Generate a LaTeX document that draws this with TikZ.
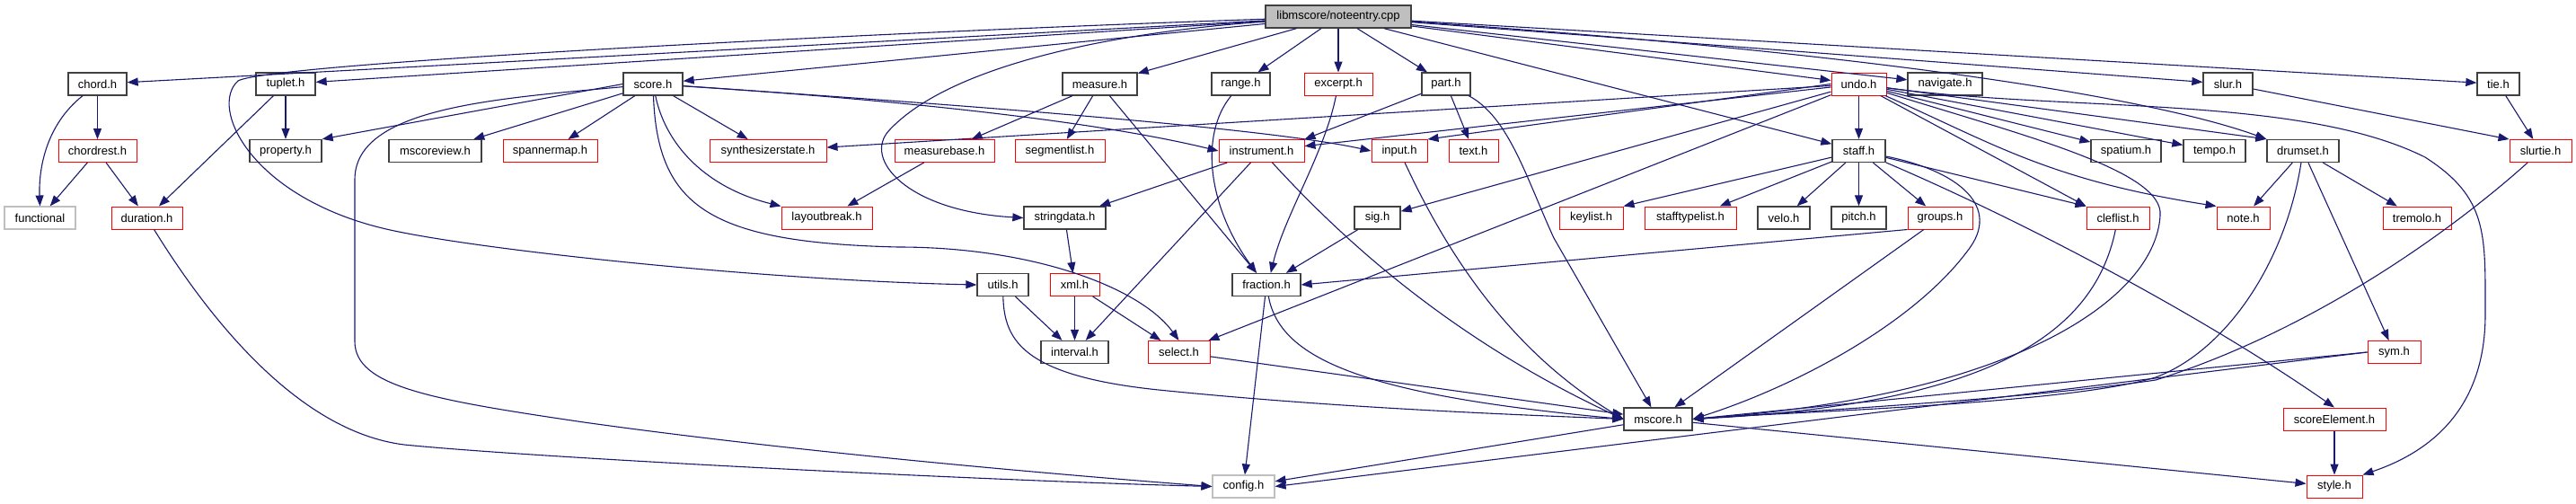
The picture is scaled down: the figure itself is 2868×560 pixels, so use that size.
\documentclass[tikz,border=0pt]{standalone}
\usepackage{fontspec}
\setmainfont{Liberation Sans}
\usetikzlibrary{arrows.meta}
\definecolor{edgeblue}{HTML}{191970}
\definecolor{docgray}{HTML}{404040}
\definecolor{extgray}{HTML}{BFBFBF}
\definecolor{undocred}{HTML}{FF0000}
\tikzset{
  box/.style={rectangle, minimum height=25pt, inner sep=0pt, font=\fontsize{13}{15}\selectfont, line width=1.3pt},
  docnode/.style={box, draw=docgray},
  rednode/.style={box, draw=undocred, line width=1pt},
  extnode/.style={box, draw=extgray, line width=1.1pt},
  rootnode/.style={box, draw=docgray, fill=extgray},
  edge/.style={draw=edgeblue, line width=1.1pt, -{Triangle[length=12pt,width=9pt]}}
}
\begin{document}
\begin{tikzpicture}[x=1pt,y=-1pt]
\useasboundingbox (0,0) rectangle (2868,560);
% row 0
\node[rootnode, minimum width=162pt] (root) at (1490,18.5) {libmscore/noteentry.cpp};
% row 1
\node[docnode, minimum width=65pt] (chord) at (108.5,93.5) {chord.h};
\node[docnode, minimum width=66pt] (tuplet) at (318,93.5) {tuplet.h};
\node[docnode, minimum width=66pt] (score) at (727,93.5) {score.h};
\node[docnode, minimum width=83pt] (measure) at (1224.5,93.5) {measure.h};
\node[docnode, minimum width=65pt] (range) at (1381.5,93.5) {range.h};
\node[rednode, minimum width=76pt] (excerpt) at (1490,93.5) {excerpt.h};
\node[docnode, minimum width=54pt] (part) at (1610,93.5) {part.h};
\node[rednode, minimum width=61pt] (undo) at (2069.5,93.5) {undo.h};
\node[docnode, minimum width=83pt] (navigate) at (2165.5,93.5) {navigate.h};
\node[docnode, minimum width=55pt] (slur) at (2480.5,93.5) {slur.h};
\node[docnode, minimum width=47pt] (tie) at (2781.5,93.5) {tie.h};
% row 2
\node[rednode, minimum width=87pt] (chordrest) at (108.5,168) {chordrest.h};
\node[docnode, minimum width=80pt] (property) at (318,168) {property.h};
\node[docnode, minimum width=103pt] (mscoreview) at (484.5,168) {mscoreview.h};
\node[rednode, minimum width=105pt] (spannermap) at (612.5,168) {spannermap.h};
\node[rednode, minimum width=130pt] (synth) at (855,168) {synthesizerstate.h};
\node[rednode, minimum width=111pt] (measurebase) at (1051.5,168) {measurebase.h};
\node[rednode, minimum width=100pt] (segmentlist) at (1180,168) {segmentlist.h};
\node[rednode, minimum width=95pt] (instrument) at (1404.5,168) {instrument.h};
\node[rednode, minimum width=62pt] (input) at (1558,168) {input.h};
\node[rednode, minimum width=55pt] (text) at (1640.5,168) {text.h};
\node[docnode, minimum width=59pt] (staff) at (2069.5,168) {staff.h};
\node[docnode, minimum width=78pt] (spatium) at (2367,168) {spatium.h};
\node[docnode, minimum width=69pt] (tempo) at (2465.5,168) {tempo.h};
\node[docnode, minimum width=80pt] (drumset) at (2564,168) {drumset.h};
\node[rednode, minimum width=69pt] (slurtie) at (2828.5,168) {slurtie.h};
% row 3
\node[extnode, minimum width=79pt] (functional) at (44.5,242.5) {functional};
\node[rednode, minimum width=79pt] (duration) at (163.5,242.5) {duration.h};
\node[rednode, minimum width=101pt] (layoutbreak) at (920.5,242.5) {layoutbreak.h};
\node[docnode, minimum width=91pt] (stringdata) at (1185.5,242.5) {stringdata.h};
\node[docnode, minimum width=51pt] (sig) at (1533.5,242.5) {sig.h};
\node[rednode, minimum width=71pt] (keylist) at (1771.5,242.5) {keylist.h};
\node[rednode, minimum width=102pt] (stafftypelist) at (1882,242.5) {stafftypelist.h};
\node[docnode, minimum width=58pt] (velo) at (1986,242.5) {velo.h};
\node[docnode, minimum width=61pt] (pitch) at (2069.5,242.5) {pitch.h};
\node[rednode, minimum width=72pt] (groups) at (2160,242.5) {groups.h};
\node[rednode, minimum width=70pt] (cleflist) at (2358,242.5) {cleflist.h};
\node[rednode, minimum width=59pt] (note) at (2497.5,242.5) {note.h};
\node[rednode, minimum width=76pt] (tremolo) at (2691,242.5) {tremolo.h};
% row 4
\node[docnode, minimum width=57pt] (utils) at (1116.5,317) {utils.h};
\node[rednode, minimum width=55pt] (xml) at (1196.5,317) {xml.h};
\node[docnode, minimum width=76pt] (fraction) at (1410,317) {fraction.h};
% row 5
\node[docnode, minimum width=75pt] (interval) at (1196.5,392) {interval.h};
\node[rednode, minimum width=69pt] (select) at (1312.5,392) {select.h};
\node[rednode, minimum width=59pt] (sym) at (2665.5,392) {sym.h};
% row 6
\node[docnode, minimum width=76pt] (mscore) at (1846,466.5) {mscore.h};
\node[rednode, minimum width=114pt] (scoreelement) at (2599,466.5) {scoreElement.h};
% row 7
\node[extnode, minimum width=69pt] (config) at (1384.5,541.5) {config.h};
\node[rednode, minimum width=62pt] (style) at (2599,541.5) {style.h};

% ---- edges from root
\draw[edge] (root) -- (chord);
\draw[edge] (root) -- (tuplet);
\draw[edge] (root) -- (score);
\draw[edge] (root) .. controls (1000,35) and (300,70) .. (265,90)
  .. controls (232,120) and (280,220) .. (430,255)
  .. controls (530,278) and (850,312) .. (utils.west);
\draw[edge] (root) .. controls (1250,35) and (1060,70) .. (990,145)
  .. controls (960,177) and (1010,235) .. (stringdata.west);
\draw[edge] (root) -- (measure);
\draw[edge] (root) -- (range);
\draw[edge] (root) -- (excerpt);
\draw[edge] (root) -- (part);
\draw[edge] (root) -- (undo);
\draw[edge] (root) -- (navigate);
\draw[edge] (root) -- (slur);
\draw[edge] (root) -- (tie);
\draw[edge] (root) -- (staff);
\draw[edge] (root) .. controls (2100,60) and (2400,110) .. (drumset.north west);

% ---- chord / tuplet
\draw[edge] (chord) -- (chordrest);
\draw[edge] (chord) .. controls (50,140) and (43,190) .. (functional.north);
\draw[edge] (chordrest) -- (functional);
\draw[edge] (chordrest) -- (duration);
\draw[edge] (tuplet) -- (property);
\draw[edge] (tuplet) -- (duration);
\draw[edge] (duration) .. controls (230,350) and (330,480) .. (450,495)
  .. controls (600,510) and (1100,535) .. (config.west);

% ---- score
\draw[edge] (score.west) -- (property.north east);
\draw[edge] (score) -- (mscoreview);
\draw[edge] (score) -- (spannermap);
\draw[edge] (score) -- (synth);
\draw[edge] (score) .. controls (742,165) and (790,210) .. (layoutbreak.north west);
\draw[edge] (score) .. controls (732,230) and (790,270) .. (1000,275)
  .. controls (1150,275) and (1270,320) .. (select.north);
\draw[edge] (score) .. controls (550,110) and (395,120) .. (395,200) -- (395,380)
  .. controls (395,430) and (480,445) .. (650,470)
  .. controls (900,505) and (1200,530) .. (config.west);
\draw[edge] (score) .. controls (950,108) and (1200,130) .. (instrument.west);
\draw[edge] (score) .. controls (1000,112) and (1400,140) .. (input.west);

% ---- measure / range / excerpt / part
\draw[edge] (measure) -- (measurebase);
\draw[edge] (measure) -- (segmentlist);
\draw[edge] (measure) -- (fraction.130);
\draw[edge] (measurebase) -- (layoutbreak);
\draw[edge] (range) .. controls (1335,150) and (1345,230) .. (fraction.130);
\draw[edge] (excerpt) .. controls (1475,170) and (1430,240) .. (fraction.70);
\draw[edge] (part) -- (instrument.north east);
\draw[edge] (part) -- (text);
\draw[edge] (part) .. controls (1680,130) and (1700,200) .. (1730,265) -- (mscore);

% ---- instrument / input / stringdata / xml / utils
\draw[edge] (instrument) -- (stringdata);
\draw[edge] (instrument) -- (interval);
\draw[edge] (instrument) .. controls (1480,250) and (1600,370) .. (mscore.west);
\draw[edge] (input) .. controls (1610,280) and (1680,390) .. (mscore.west);
\draw[edge] (stringdata) -- (xml);
\draw[edge] (xml) -- (interval);
\draw[edge] (xml) -- (select);
\draw[edge] (utils) -- (interval);
\draw[edge] (utils) .. controls (1118,380) and (1140,420) .. (1300,435)
  .. controls (1500,455) and (1700,462) .. (mscore.west);
\draw[edge] (sig) -- (fraction);
\draw[edge] (fraction) -- (config);
\draw[edge] (fraction) .. controls (1425,400) and (1520,440) .. (mscore.west);
\draw[edge] (select) -- (mscore);
\draw[edge] (mscore) -- (config);
\draw[edge] (mscore) -- (style);

% ---- undo
\draw[edge] (undo) -- (staff);
\draw[edge] (undo) -- (synth);
\draw[edge] (undo) -- (instrument);
\draw[edge] (undo.west) -- (input.north east);
\draw[edge] (undo) -- (sig);
\draw[edge] (undo) -- (select);
\draw[edge] (undo) -- (spatium);
\draw[edge] (undo) -- (tempo);
\draw[edge] (undo) -- (drumset.north west);
\draw[edge] (undo) .. controls (2220,160) and (2280,200) .. (note.north west);
\draw[edge] (undo) -- (cleflist.north west);
\draw[edge] (undo) .. controls (2250,150) and (2410,190) .. (2405,240)
  .. controls (2400,330) and (2250,440) .. (mscore.east);
\draw[edge] (undo) .. controls (2300,125) and (2560,105) .. (2700,175)
  .. controls (2770,220) and (2767,260) .. (2767,350)
  .. controls (2767,460) and (2700,505) .. (style.north east);

% ---- staff
\draw[edge] (staff) -- (keylist.north east);
\draw[edge] (staff) -- (stafftypelist);
\draw[edge] (staff) -- (velo);
\draw[edge] (staff) -- (pitch);
\draw[edge] (staff) -- (groups);
\draw[edge] (staff) -- (cleflist.north west);
\draw[edge] (staff) .. controls (2180,190) and (2230,230) .. (2190,280)
  .. controls (2130,360) and (2000,430) .. (mscore.east);
\draw[edge] (staff) .. controls (2250,245) and (2450,350) .. (scoreelement.north);
\draw[edge] (groups.south west) -- (fraction.east);
\draw[edge] (groups) -- (mscore);
\draw[edge] (cleflist) .. controls (2330,380) and (2200,450) .. (mscore.east);

% ---- drumset / slur / tie / sym
\draw[edge] (drumset) -- (note);
\draw[edge] (drumset) -- (tremolo);
\draw[edge] (drumset) -- (sym);
\draw[edge] (drumset) .. controls (2545,290) and (2480,390) .. (2400,420)
  .. controls (2300,450) and (2000,458) .. (mscore.east);
\draw[edge] (tie) -- (slurtie);
\draw[edge] (slur) -- (slurtie.north west);
\draw[edge] (slurtie) .. controls (2760,230) and (2600,360) .. (2400,423)
  .. controls (2250,445) and (2000,458) .. (mscore.east);
\draw[edge] (sym.west) -- (mscore.east);
\draw[edge] (sym.west) -- (config.east);
\draw[edge] (scoreelement) -- (style);
\end{tikzpicture}
\end{document}
